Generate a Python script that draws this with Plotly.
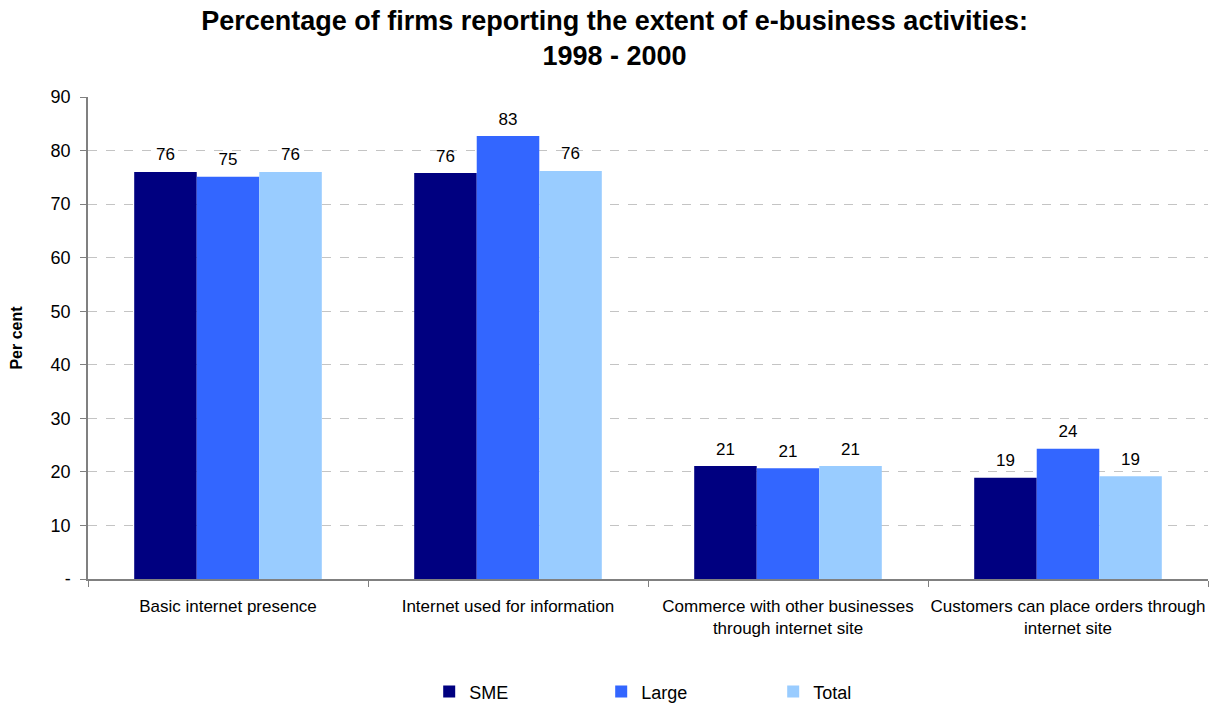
import plotly.graph_objects as go

categories = [
    "Basic internet presence",
    "Internet used for information",
    "Commerce with other businesses<br>through internet site",
    "Customers can place orders through<br>internet site",
]
sme = [76.0, 75.8, 21.1, 18.9]
large = [75.1, 82.7, 20.7, 24.3]
total = [76.0, 76.2, 21.1, 19.2]

series = [("SME", sme, "#000080"), ("Large", large, "#3366ff"), ("Total", total, "#99ccff")]
y_ticks = [0, 10, 20, 30, 40, 50, 60, 70, 80, 90]
y_tick_text = ["-", "10", "20", "30", "40", "50", "60", "70", "80", "90"]

font = "Arial, Liberation Sans, sans-serif"
gap = 0.33

fig = go.Figure()
for i, (name, vals, color) in enumerate(series):
    fig.add_trace(go.Bar(
        name=name, x=categories, y=vals, marker_color=color, marker_line_width=0,
        offsetgroup=str(i), hoverinfo="x+y+name",
    ))
# value labels above each bar, grouped the same way as the bars
for i, (name, vals, color) in enumerate(series):
    fig.add_trace(go.Scatter(
        x=categories, y=vals, mode="markers+text", offsetgroup=str(i),
        marker=dict(size=10, opacity=0), text=[f"{v:.0f}" for v in vals],
        textposition="top center", cliponaxis=False, showlegend=False, hoverinfo="skip",
        textfont=dict(size=17, color="black", family=font),
    ))

fig.update_layout(
    width=1217, height=706,
    margin=dict(l=88, r=9, t=97, b=127, autoexpand=False),
    paper_bgcolor="white", plot_bgcolor="white",
    barmode="group", bargap=gap, bargroupgap=0,
    scattermode="group", scattergap=gap,
    font=dict(family=font, color="black"),
    title=dict(
        text="<b>Percentage of firms reporting the extent of e-business activities:<br>1998 - 2000</b>",
        x=0.505, xanchor="center", yref="container", y=0.958, yanchor="middle",
        font=dict(size=27, family=font, color="black"),
    ),
    showlegend=True,
    legend=dict(
        orientation="h", x=0.535, xanchor="center", yref="container", y=0.02, yanchor="middle",
        font=dict(size=18, family=font), entrywidth=127, itemwidth=30,
        traceorder="normal",
    ),
)
fig.update_yaxes(
    range=[0, 90], tickvals=y_ticks, ticktext=y_tick_text, automargin=False,
    showline=True, linecolor="#808080", linewidth=1.5,
    ticks="outside", ticklen=6, tickcolor="#808080", ticklabelstandoff=6,
    showgrid=True, gridcolor="#c4c4c4", griddash="dash", gridwidth=1,
    zeroline=False, tickfont=dict(size=18, family=font),
    title=dict(text="<b>Per cent</b>", font=dict(size=16, family=font), standoff=24),
)
fig.update_xaxes(
    automargin=False, tickangle=0,
    showline=True, linecolor="#808080", linewidth=1.5,
    ticks="outside", ticklen=6, tickcolor="#808080", tickson="boundaries",
    ticklabelstandoff=11,
    tickfont=dict(size=17, family=font), showgrid=False,
)

fig.write_html("out.html")
